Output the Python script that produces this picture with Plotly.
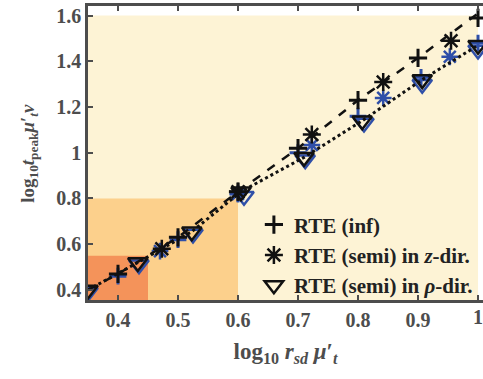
import plotly.graph_objects as go

# ---- data ----
inf_x = [0.4, 0.5, 0.6, 0.7, 0.8, 0.9, 1.0]
inf_y = [0.47, 0.63, 0.83, 1.02, 1.23, 1.415, 1.59]
z_x = [0.473, 0.6, 0.723, 0.842, 0.955]
z_y = [0.58, 0.83, 1.08, 1.31, 1.49]
rho_x = [0.35, 0.433, 0.523, 0.605, 0.71, 0.807, 0.907, 1.0]
rho_y = [0.40, 0.52, 0.655, 0.83, 0.98, 1.14, 1.32, 1.47]

dash_x = [0.35, 0.4, 0.5, 0.6, 0.7, 0.8, 0.9, 1.0]
dash_y = [0.40, 0.47, 0.63, 0.83, 1.02, 1.23, 1.415, 1.61]

blue_inf_x = [0.4, 0.5, 0.6, 0.7, 0.8, 0.905, 1.0]
blue_inf_y = [0.46, 0.62, 0.82, 1.0, 1.16, 1.33, 1.48]
blue_z_x = [0.47, 0.6, 0.723, 0.842, 0.953]
blue_z_y = [0.57, 0.82, 1.034, 1.24, 1.42]
blue_rho_x = [0.35, 0.435, 0.525, 0.61, 0.712, 0.81, 0.907, 1.0]
blue_rho_y = [0.39, 0.51, 0.645, 0.81, 0.97, 1.13, 1.30, 1.45]

regions = [  # (x0, x1, y0, y1, colour)
    (0.35, 1.0, 0.35, 1.6, "#FDF3D5"),
    (0.35, 0.6, 0.35, 0.8, "#FCD08C"),
    (0.35, 0.45, 0.35, 0.55, "#F4935A"),
]

xticks = [0.4, 0.5, 0.6, 0.7, 0.8, 0.9]
xticktext = ["0.4", "0.5", "0.6", "0.7", "0.8", "0.9"]
last_xtick = (1.0, "1")
yticks = [0.4, 0.6, 0.8, 1.0, 1.2, 1.4, 1.6]
yticktext = ["0.4", "0.6", "0.8", "1", "1.2", "1.4", "1.6"]

BLUE = "#2F4FA8"
BLACK = "#111111"
GRAY = "#4D4D4D"
FONT = "Liberation Serif"

fig = go.Figure()

# blue markers (underneath)
fig.add_trace(go.Scatter(x=blue_inf_x, y=blue_inf_y, mode="markers", showlegend=False,
                         marker=dict(symbol="cross-thin-open", size=12, color=BLUE,
                                     line=dict(color=BLUE, width=3))))
fig.add_trace(go.Scatter(x=blue_z_x, y=blue_z_y, mode="markers", showlegend=False,
                         marker=dict(symbol="asterisk-open", size=14, color=BLUE,
                                     line=dict(color=BLUE, width=2.5))))
fig.add_trace(go.Scatter(x=blue_rho_x, y=blue_rho_y, mode="markers", showlegend=False,
                         marker=dict(symbol="triangle-down-open", size=17, color=BLUE,
                                     line=dict(color=BLUE, width=2.5))))

# lines
fig.add_trace(go.Scatter(x=dash_x, y=dash_y, mode="lines", showlegend=False,
                         line=dict(color=BLACK, width=2.5, dash="dash")))
fig.add_trace(go.Scatter(x=rho_x, y=rho_y, mode="lines", showlegend=False,
                         line=dict(color=BLACK, width=3, dash="dot")))

# black markers
fig.add_trace(go.Scatter(x=inf_x, y=inf_y, mode="markers", name="<b>RTE (inf)</b>",
                         marker=dict(symbol="cross-thin-open", size=13, color=BLACK,
                                     line=dict(color=BLACK, width=3))))
fig.add_trace(go.Scatter(x=z_x, y=z_y, mode="markers", name="<b>RTE (semi) in <i>z</i>-dir.</b>",
                         marker=dict(symbol="asterisk-open", size=15, color=BLACK,
                                     line=dict(color=BLACK, width=2.5))))
fig.add_trace(go.Scatter(x=rho_x, y=rho_y, mode="markers", name="<b>RTE (semi) in <i>ρ</i>-dir.</b>",
                         marker=dict(symbol="triangle-down-open", size=17, color=BLACK,
                                     line=dict(color=BLACK, width=2.5))))

for x0, x1, y0, y1, c in regions:
    fig.add_shape(type="rect", x0=x0, x1=x1, y0=y0, y1=y1, xref="x", yref="y",
                  fillcolor=c, line=dict(width=0), layer="below")

axis_common = dict(showgrid=False, zeroline=False, showline=True, linecolor=GRAY,
                   linewidth=2.5, ticks="inside", ticklen=5, tickwidth=2, tickcolor=GRAY,
                   tickfont=dict(family=FONT, size=20, color=GRAY))

# tick at x=1 (label placed as annotation so it is not dropped at the edge)
fig.add_annotation(x=last_xtick[0], y=0, xref="x", yref="paper", yanchor="top", yshift=-4,
                   text=f"<b>{last_xtick[1]}</b>", showarrow=False,
                   font=dict(family=FONT, size=20, color=GRAY))

# y-axis title as annotation
fig.add_annotation(x=-0.15, y=0.5, xref="paper", yref="paper", textangle=-90,
                   xanchor="center", yanchor="middle", showarrow=False,
                   text="<b>log<sub>10</sub><i>t</i><sub>peak</sub><i>μ</i>′<sub><i>t</i></sub><i>v</i></b>",
                   font=dict(family=FONT, size=19, color=GRAY))

fig.update_layout(
    width=483, height=379,
    margin=dict(l=88, r=0, t=6, b=79),
    paper_bgcolor="white", plot_bgcolor="white",
    font=dict(family=FONT, color="#222"),
    xaxis=dict(range=[0.35, 1.0083], tickvals=xticks + [last_xtick[0]],
               ticktext=[f"<b>{t}</b>" for t in xticktext] + [""],
               mirror="ticks",
               title=dict(text="<b>log<sub>10</sub> <i>r</i><sub><i>sd</i></sub> <i>μ</i>′<sub><i>t</i></sub></b>",
                          font=dict(family=FONT, size=23, color=GRAY), standoff=14),
               **axis_common),
    yaxis=dict(range=[0.356, 1.642], tickvals=yticks, ticktext=[f"<b>{t}</b>" for t in yticktext],
               **axis_common),
    legend=dict(x=0.42, y=0.325, xanchor="left", yanchor="top", bgcolor="rgba(0,0,0,0)",
                font=dict(family=FONT, size=21, color="#222"), tracegroupgap=0,
                itemwidth=30),
)

fig.write_html("out.html")
